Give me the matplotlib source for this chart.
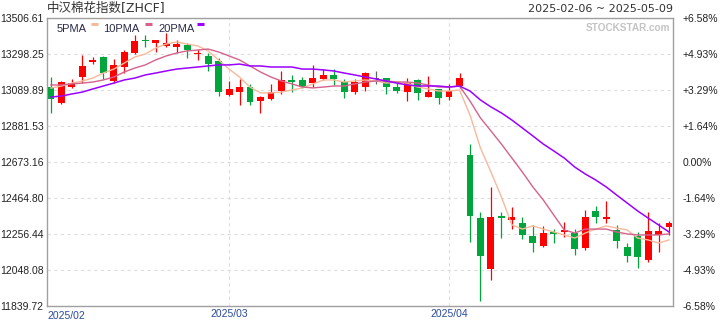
import matplotlib
matplotlib.use("Agg")
import matplotlib.pyplot as plt
from matplotlib.lines import Line2D
from matplotlib.patches import Rectangle

title = "中汉棉花指数[ZHCF]"
date_range = "2025-02-06 ~ 2025-05-09"

opens = [13107, 13015, 13107, 13165, 13252, 13281, 13142, 13223, 13304, 13379,
         13362, 13345, 13339, 13350, 13298, 13287, 13258, 13061, 13078, 13107,
         13026, 13038, 13084, 13148, 13148, 13130, 13154, 13177, 13136, 13078,
         13107, 13154, 13159, 13107, 13078, 13148, 13049, 13096, 13049, 13113,
         12714, 12349, 12054, 12361, 12338, 12320, 12245, 12187, 12268, 12268,
         12262, 12175, 12390, 12343, 12280, 12181, 12245, 12106, 12251, 12297]
highs = [13165, 13142, 13154, 13293, 13281, 13287, 13269, 13321, 13408, 13408,
         13379, 13420, 13379, 13362, 13327, 13304, 13275, 13142, 13154, 13125,
         13055, 13125, 13200, 13177, 13165, 13235, 13211, 13211, 13154, 13154,
         13194, 13200, 13159, 13130, 13159, 13154, 13171, 13096, 13125, 13188,
         12777, 12384, 12529, 12384, 12413, 12355, 12309, 12303, 12285, 12326,
         12285, 12395, 12419, 12448, 12309, 12204, 12268, 12384, 12320, 12332]
lows = [12957, 13009, 13102, 13130, 13240, 13154, 13130, 13188, 13298, 13339,
        13310, 13339, 13304, 13275, 13264, 13200, 13055, 13055, 13003, 13003,
        12957, 13032, 13067, 13078, 13102, 13107, 13148, 13119, 13044, 13067,
        13084, 13125, 13067, 13073, 13026, 13032, 13049, 13009, 13032, 13102,
        12210, 11869, 11990, 12233, 12285, 12228, 12152, 12181, 12204, 12239,
        12135, 12164, 12320, 12320, 12175, 12094, 12060, 12094, 12152, 12251]
closes = [13038, 13136, 13130, 13229, 13264, 13188, 13235, 13310, 13374, 13374,
          13379, 13362, 13356, 13321, 13304, 13240, 13078, 13096, 13107, 13020,
          13049, 13078, 13148, 13136, 13107, 13159, 13177, 13154, 13078, 13136,
          13188, 13154, 13107, 13084, 13130, 13073, 13078, 13044, 13084, 13159,
          12361, 12129, 12355, 12349, 12355, 12251, 12204, 12262, 12257, 12280,
          12170, 12355, 12355, 12355, 12216, 12129, 12123, 12274, 12274, 12320]

ma5 = [13101, 13113, 13130, 13142, 13159, 13188, 13211, 13246, 13281, 13298,
       13333, 13356, 13368, 13356, 13345, 13316, 13264, 13211, 13165, 13107,
       13073, 13073, 13078, 13090, 13102, 13125, 13148, 13148, 13136, 13142,
       13148, 13142, 13130, 13136, 13130, 13107, 13096, 13084, 13084, 13090,
       12945, 12754, 12615, 12471, 12309, 12285, 12303, 12285, 12268, 12251,
       12233, 12262, 12285, 12303, 12291, 12280, 12233, 12222, 12204, 12222]
ma10 = [13119, 13119, 13125, 13130, 13136, 13148, 13165, 13194, 13217, 13235,
        13264, 13287, 13304, 13316, 13321, 13327, 13310, 13287, 13264, 13229,
        13194, 13165, 13142, 13125, 13107, 13102, 13107, 13113, 13113, 13125,
        13136, 13142, 13142, 13136, 13136, 13130, 13119, 13107, 13107, 13113,
        13026, 12928, 12853, 12777, 12696, 12615, 12529, 12453, 12366, 12280,
        12262, 12285, 12285, 12285, 12268, 12257, 12251, 12251, 12251, 12257]
ma20 = [13049, 13055, 13067, 13078, 13096, 13113, 13130, 13148, 13159, 13177,
        13188, 13200, 13211, 13217, 13223, 13229, 13235, 13235, 13240, 13229,
        13229, 13223, 13223, 13223, 13211, 13211, 13206, 13200, 13188, 13177,
        13165, 13154, 13142, 13130, 13119, 13113, 13113, 13113, 13107, 13113,
        13084, 13032, 12992, 12957, 12916, 12870, 12824, 12777, 12737, 12696,
        12644, 12604, 12569, 12529, 12482, 12436, 12390, 12349, 12309, 12268]

month_pos = [17, 38]
month_labels = ["2025/03", "2025/04"]
first_label = "2025/02"
price_ticks = [13506.61, 13298.25, 13089.89, 12881.53, 12673.16,
               12464.80, 12256.44, 12048.08, 11839.72]
pct_labels = ["+6.58%", "+4.93%", "+3.29%", "+1.64%", "0.00%",
              "-1.64%", "-3.29%", "-4.93%", "-6.58%"]

up_color = "#ff0000"
down_color = "#00a63c"
flat_color = "#666666"

fig = plt.figure(figsize=(7.2, 3.2), dpi=100)
ax = fig.add_axes([47 / 720, 14 / 320, 626 / 720, 288 / 320])

x = list(range(len(closes)))
for i in x:
    o, h, l, c = opens[i], highs[i], lows[i], closes[i]
    if c > o:
        col = up_color
    elif c < o:
        col = down_color
    else:
        col = flat_color
    ax.vlines(i, l, h, color=col, lw=0.9, zorder=2)
    bottom = min(o, c)
    height = max(abs(c - o), 5)
    ax.add_patch(Rectangle((i - 0.33, bottom), 0.66, height,
                           facecolor=col, edgecolor=col, lw=0, zorder=3))

ax.plot(x, ma5, color="#f7b99b", lw=1.0, zorder=4)
ax.plot(x, ma10, color="#d4628c", lw=1.0, zorder=4)
ax.plot(x, ma20, color="#9b00ff", lw=1.1, zorder=4)

ax.set_xlim(-0.38, 59.38)
ax.set_ylim(price_ticks[-1], price_ticks[0])

ax.set_yticks(price_ticks)
ax.set_yticklabels(["%.2f" % v for v in price_ticks], color="#222222",
                   fontsize=7.5, fontfamily="Liberation Sans")
ax.set_xticks(month_pos)
ax.set_xticklabels(month_labels, color="#2a4a9a", fontsize=7.5,
                   fontfamily="Liberation Sans")
ax.tick_params(axis="both", length=0)
ax.tick_params(axis="y", pad=2.5)
ax.tick_params(axis="x", pad=2.5)
ax.text(0, -0.017, first_label, transform=ax.transAxes, ha="left", va="top",
        color="#2a4a9a", fontsize=7.5, fontfamily="Liberation Sans")

ax.grid(True, color="#dddddd", ls=(0, (3, 3)), lw=0.8, zorder=0)
for s in ax.spines.values():
    s.set_color("#a0a0a0")
    s.set_linewidth(1.0)

ax2 = ax.twinx()
ax2.set_ylim(price_ticks[-1], price_ticks[0])
ax2.set_yticks(price_ticks)
ax2.set_yticklabels(pct_labels, color="#222222", fontsize=7.5,
                    fontfamily="Liberation Sans")
ax2.tick_params(axis="y", length=0, pad=7)
for s in ax2.spines.values():
    s.set_visible(False)

fig.text(47 / 720, 1 - 8.5 / 320, title, ha="left", va="center",
         fontsize=9, color="#333333", family=["DejaVu Sans", "Noto Sans CJK SC"])
fig.text(673 / 720, 1 - 8.5 / 320, date_range, ha="right", va="center",
         fontsize=8, color="#333333", family="DejaVu Sans")
ax.text(0.995, 0.965, "STOCKSTAR.com", transform=ax.transAxes, ha="right",
        va="center", fontsize=7.2, fontweight="bold", color="#c4c4c4",
        fontfamily="Liberation Sans")

# legend drawn by hand: label first, then a short colour bar
legend = [("5PMA", "#f7b99b", 57, 91), ("10PMA", "#d4628c", 103, 145),
          ("20PMA", "#9b00ff", 158, 197)]
for name, col, tx, sx in legend:
    fig.text(tx / 720, 1 - 28.5 / 320, name, ha="left", va="center",
             fontsize=8, color="#2b2b4b", fontfamily="Liberation Sans")
    fig.add_artist(Line2D([sx / 720, (sx + 7) / 720],
                          [1 - 24 / 320, 1 - 24 / 320],
                          color=col, lw=2.2, solid_capstyle="butt"))

fig.savefig("out.png", dpi=100)
